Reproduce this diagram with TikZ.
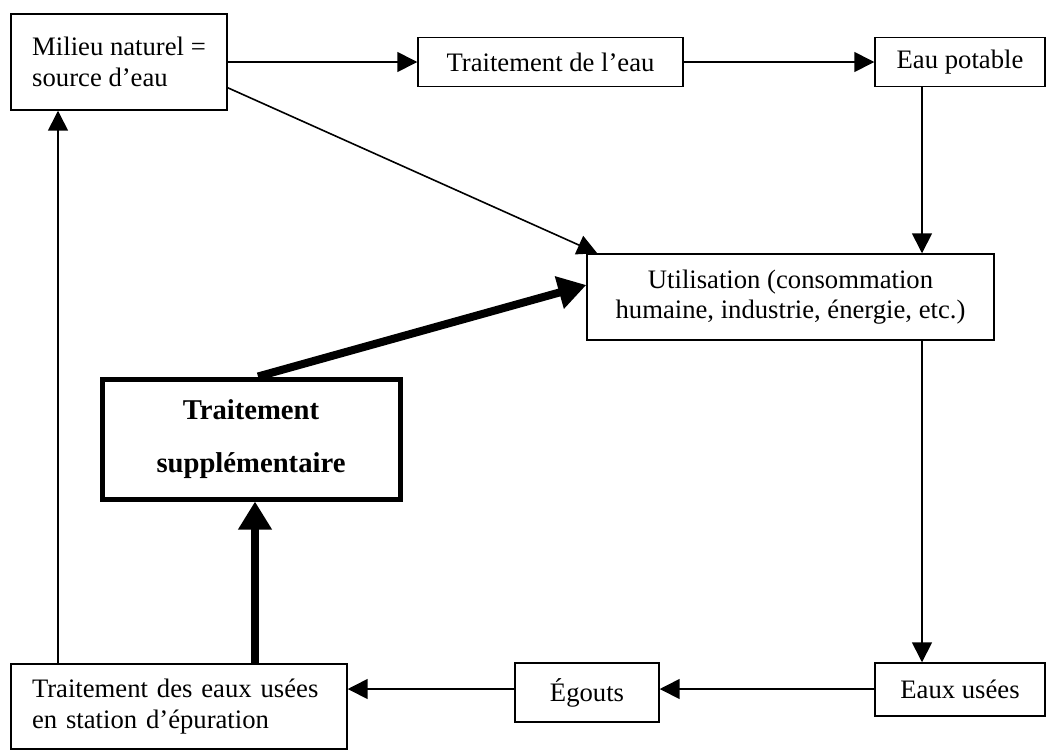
\documentclass[tikz,border=0pt]{standalone}
\usepackage{fontspec}
\setmainfont{Liberation Serif}
\usetikzlibrary{arrows.meta,calc}
\begin{document}
\begin{tikzpicture}[x=0.75pt,y=-0.75pt,
  box/.style={draw, line width=1.1pt, inner sep=0pt, font=\fontsize{20}{23}\selectfont},
  leftbox/.style={box, align=left},
  centerbox/.style={box, align=center},
  boldbox/.style={draw, line width=3.75pt, inner sep=0pt, align=center, font=\fontsize{21.5}{40}\selectfont\bfseries},
  arr/.style={line width=1.2pt, -{Triangle[length=15pt,width=15pt]}},
  thickarr/.style={line width=6pt, -{Triangle[length=21pt,width=24pt]}}]

\useasboundingbox (0,0) rectangle (1056,751);

\node[leftbox, minimum width=216*0.75pt, minimum height=96*0.75pt] (mil) at (119,62)
  {Milieu naturel =\\source d’eau};
\node[centerbox, minimum width=265*0.75pt, minimum height=49*0.75pt] (trt) at (550.5,62)
  {Traitement de l’eau};
\node[centerbox, minimum width=170*0.75pt, minimum height=49*0.75pt] (pot) at (960,62)
  {Eau potable};
\node[centerbox, minimum width=407*0.75pt, minimum height=86*0.75pt] (uti) at (790.5,297)
  {Utilisation (consommation\\humaine, industrie, énergie, etc.)};
\node[boldbox, minimum width=298*0.75pt, minimum height=120*0.75pt] (sup) at (251,439)
  {Traitement\\supplémentaire};
\node[leftbox, minimum width=336*0.75pt, minimum height=85*0.75pt, text width=294*0.75pt] (tre) at (179,706.5)
  {Traitement des eaux usées\\en station d’épuration};
\node[centerbox, minimum width=144*0.75pt, minimum height=59*0.75pt] (ego) at (587,692.5)
  {Égouts};
\node[centerbox, minimum width=170*0.75pt, minimum height=53*0.75pt] (use) at (960,689.5)
  {Eaux usées};

\coordinate (vx) at (922,0);
\coordinate (hy) at (0,689);
\coordinate (lx) at (58,0);
\coordinate (tx) at (255,0);

\draw[arr] (mil.east) -- (mil.east -| trt.west);
\draw[arr] (trt.east) -- (trt.east -| pot.west);
\draw[arr] (pot.south -| vx) -- (uti.north -| vx);
\draw[arr] ($(mil.south east)+(0,-23)$) -- ($(uti.north west)+(11,0)$);
\draw[thickarr] ($(sup.north)+(7,0)$) -- ($(uti.west)+(0,-12)$);
\draw[arr] (uti.south -| vx) -- (use.north -| vx);
\draw[arr] (use.west |- hy) -- (ego.east |- hy);
\draw[arr] (ego.west |- hy) -- (tre.east |- hy);
\draw[arr] (tre.north -| lx) -- (mil.south -| lx);
\draw[thickarr] (tre.north -| tx) -- (sup.south -| tx);
\end{tikzpicture}
\end{document}
